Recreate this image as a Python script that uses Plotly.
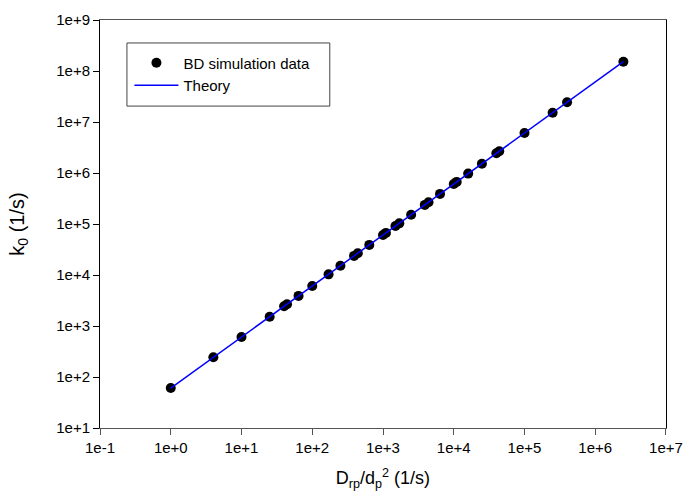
import plotly.graph_objects as go

# ---- data ----
sim_x = [1, 4, 10, 25, 40, 44, 64, 100, 170, 250, 390, 440, 640, 1000, 1100,
         1500, 1700, 2500, 3900, 4400, 6400, 10000, 11000, 16000, 25000,
         40000, 44000, 100000, 250000, 400000, 2500000]
sim_k = [61, 243, 608, 1520, 2430, 2680, 3890, 6080, 10300, 15200, 23700, 26800,
         38900, 60800, 66900, 91200, 103000, 152000, 237000, 268000, 389000,
         608000, 669000, 973000, 1520000, 2430000, 2680000, 6080000, 15200000,
         24300000, 152000000]
theory_x = [1, 2500000]
theory_k = [60.8, 152000000]

x_tickvals = [1e-1, 1e0, 1e1, 1e2, 1e3, 1e4, 1e5, 1e6, 1e7]
x_ticktext = ["1e-1", "1e+0", "1e+1", "1e+2", "1e+3", "1e+4", "1e+5", "1e+6", "1e+7"]
y_tickvals = [1e1, 1e2, 1e3, 1e4, 1e5, 1e6, 1e7, 1e8, 1e9]
y_ticktext = ["1e+1", "1e+2", "1e+3", "1e+4", "1e+5", "1e+6", "1e+7", "1e+8", "1e+9"]

FONT = "Arial, Liberation Sans, sans-serif"

fig = go.Figure()
fig.add_trace(go.Scatter(
    x=sim_x, y=sim_k, mode="markers", name="BD simulation data",
    marker=dict(color="black", size=10, symbol="circle"),
))
fig.add_trace(go.Scatter(
    x=theory_x, y=theory_k, mode="lines", name="Theory",
    line=dict(color="#0000ff", width=1.5),
))

# legend frame drawn as a shape (paper coords)
fig.add_shape(type="rect", xref="paper", yref="paper",
              x0=0.0476, x1=0.406, y0=0.789, y1=0.9437,
              line=dict(color="#444", width=1), fillcolor="rgba(0,0,0,0)", layer="above")

fig.update_layout(
    width=683, height=499,
    margin=dict(l=100, r=17, t=20, b=71, autoexpand=False),
    paper_bgcolor="white", plot_bgcolor="white",
    font=dict(family=FONT, size=14, color="black"),
    legend=dict(
        x=0.052, y=0.935, xanchor="left", yanchor="top",
        borderwidth=0, bgcolor="rgba(0,0,0,0)",
        font=dict(size=15), itemwidth=44,
        tracegroupgap=0,
    ),
    showlegend=True,
)
fig.update_xaxes(
    type="log", range=[-1.0003, 7.0003],
    tickvals=x_tickvals, ticktext=x_ticktext,
    ticks="outside", ticklen=6, tickcolor="#555", tickwidth=1,
    showline=True, linecolor="#555", linewidth=1, mirror=True,
    showgrid=False, zeroline=False,
    tickfont=dict(size=15),
    title=dict(text="D<sub>rp</sub>/d<sub>p</sub><sup>2</sup> (1/s)", font=dict(size=18), standoff=16),
)
fig.update_yaxes(
    type="log", range=[1, 9],
    tickvals=y_tickvals, ticktext=y_ticktext,
    ticks="outside", ticklen=6, tickcolor="black", tickwidth=1,
    showline=True, linecolor="black", linewidth=1, mirror=True,
    showgrid=False, zeroline=False,
    tickfont=dict(size=15),
    title=dict(text="k<sub>0</sub> (1/s)", font=dict(size=20), standoff=26),
)

fig.write_html("out.html", config={"displayModeBar": False},
               post_script="document.body.style.margin='0';document.body.style.overflow='hidden';")
